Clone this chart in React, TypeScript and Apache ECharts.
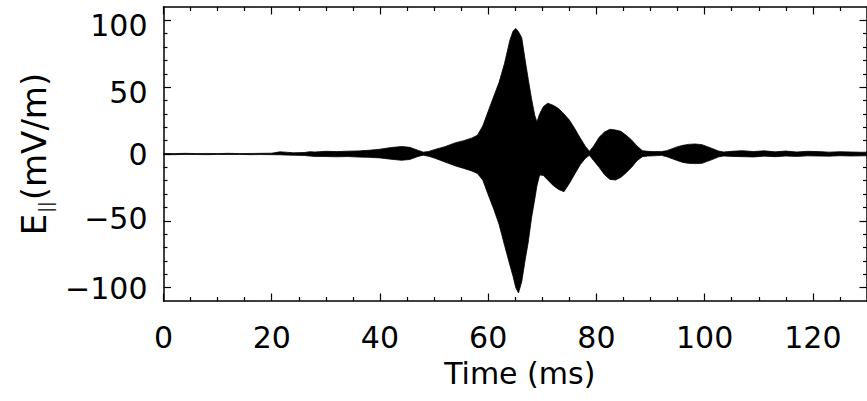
import React, { useEffect, useRef } from 'react';
import * as echarts from 'echarts';

// ---- data (envelope of the dense wave packet) ----
const timeMs = [
  0, 2, 4, 6, 8, 10, 12, 14, 16, 18, 20, 21.5, 22.5, 24, 26, 27, 28, 30, 32, 34,
  36, 38, 40, 42, 44, 45.5, 47, 48, 49, 50, 52, 54, 55.5, 57, 58, 59, 60, 61, 62, 63,
  64, 64.6, 65.1, 65.6, 66.2, 66.8, 67.4, 68, 68.6, 69, 69.5, 70.2, 71, 72, 73, 74, 75, 76, 77, 78,
  78.7, 79.5, 80.5, 81.5, 82.5, 83.5, 84.5, 85.5, 86.5, 87.5, 88.5, 89.5, 90.5, 92, 93, 94, 95, 96, 97, 98.2,
  99.5, 100.5, 101.5, 102.5, 103.5, 105, 107, 109, 111, 113, 115, 117, 119, 121, 123, 125, 127, 129, 130,
];
const upperEnv = [
  0.4, 0.3, 0.5, 0.3, 0.4, 0.3, 0.5, 0.3, 0.4, 0.5, 0.6, 1.6, 1.4, 0.9, 1.1, 1.7, 1.5, 2.0, 1.8, 2.1,
  2.3, 2.8, 3.6, 4.8, 5.6, 5.0, 2.8, 1.4, 1.9, 3.2, 5.5, 8.5, 10.0, 12.0, 14.0, 21.0, 32.0, 42.8, 53.5, 67.5,
  85.0, 92.0, 94.0, 91.5, 87.0, 71.0, 56.0, 41.5, 29.0, 24.0, 30.0, 35.5, 38.0, 36.5, 34.0, 30.0, 25.4, 19.0, 12.0, 5.5,
  2.0, 6.0, 12.5, 16.5, 18.5, 18.0, 17.0, 14.0, 10.5, 6.0, 2.5, 2.0, 1.8, 1.8, 2.5, 4.0, 5.5, 6.5, 7.2, 7.5,
  7.0, 5.5, 4.0, 2.3, 1.5, 2.0, 2.5, 1.8, 2.4, 1.6, 2.2, 1.5, 2.0, 1.8, 1.4, 1.7, 1.5, 1.3, 1.4,
];
const lowerEnv = [
  -0.4, -0.5, -0.3, -0.4, -0.5, -0.3, -0.4, -0.3, -0.5, -0.4, -0.5, -0.6, -0.8, -0.9, -1.1, -1.5, -1.8, -1.9, -2.1, -1.9,
  -2.3, -2.5, -2.9, -3.9, -4.7, -4.1, -1.9, -0.9, -1.7, -2.9, -6.0, -9.0, -10.8, -12.8, -14.5, -19.5, -30.5, -41.0, -52.5, -68.0,
  -83.0, -91.7, -100.0, -104.0, -95.5, -80.0, -66.0, -48.0, -34.0, -24.0, -15.7, -16.0, -19.5, -23.5, -26.5, -28.2, -22.0, -15.0, -8.0, -3.0,
  -1.0, -5.0, -10.0, -15.5, -19.0, -19.5, -17.5, -14.0, -10.0, -5.0, -2.0, -1.5, -1.4, -1.0, -2.0, -3.5, -5.0, -6.3, -7.0, -7.2,
  -7.0, -5.5, -4.0, -2.2, -1.5, -1.8, -2.0, -2.2, -1.6, -2.0, -1.5, -1.8, -1.4, -1.5, -1.6, -1.3, -1.5, -1.4, -1.3,
];

const xMajorTicks = [0, 20, 40, 60, 80, 100, 120];
const xMinorTicks = [5, 10, 15, 25, 30, 35, 45, 50, 55, 65, 70, 75, 85, 90, 95, 105, 110, 115, 125];
const yMajorTicks = [-100, -50, 0, 50, 100];
const yMinorTicks = [-90, -80, -70, -60, -40, -30, -20, -10, 10, 20, 30, 40, 60, 70, 80, 90];
const xTitle = 'Time (ms)';
const yTitle = '{m|E}{s|||}{m|(mV/m)}';

const FONT = 'DejaVu Sans';
const BLACK = '#000';

export default function App() {
  const ref = useRef<HTMLDivElement>(null);

  useEffect(() => {
    if (!ref.current) return;
    const chart = echarts.init(ref.current, undefined, { renderer: 'svg' });

    const frameLine = { show: true, onZero: false, lineStyle: { color: BLACK, width: 1.5 } };
    const majorTick = (vals: number[]) => ({
      show: true, inside: true, length: 7.5, customValues: vals,
      lineStyle: { color: BLACK, width: 1.2 },
    });
    const minorTick = (vals: number[]) => ({
      show: true, inside: true, length: 4, customValues: vals,
      lineStyle: { color: BLACK, width: 1.2 },
    });
    const fmt = (v: number) => (v < 0 ? '\u2212' + Math.abs(v) : String(v));
    const labelStyle = { fontSize: 30, fontFamily: FONT, color: BLACK };
    const yLabelRich = {
      p100: { ...labelStyle, padding: [11, 0, 0, 0] },
      p50: { ...labelStyle, padding: [11, 0, 0, 0] },
      p0: { ...labelStyle },
      n50: { ...labelStyle, padding: [0, 0, 4, 0] },
      n100: { ...labelStyle, padding: [2, 0, 0, 0] },
    };
    const yFmt = (v: number) => {
      const key = v < 0 ? 'n' + Math.abs(v) : 'p' + v;
      return '{' + key + '|' + fmt(v) + '}';
    };

    const xBase = { type: 'value' as const, min: 0, max: 130, splitLine: { show: false } };
    const yBase = { type: 'value' as const, min: -110, max: 110, splitLine: { show: false } };

    const lineSeries = (vals: number[]) => ({
      type: 'line',
      xAxisIndex: 0,
      yAxisIndex: 0,
      data: timeMs.map((t, i) => [t, vals[i]]),
      symbol: 'none',
      showSymbol: false,
      lineStyle: { color: BLACK, width: 0.8 },
      areaStyle: { color: BLACK, opacity: 1 },
      silent: true,
    });

    chart.setOption({
      animation: false,
      backgroundColor: '#fff',
      grid: [
        { left: 163.5, top: 7, width: 710.5, height: 294, show: false },
        { left: 163.5, top: 7, width: 710.5, height: 294, show: false },
      ],
      xAxis: [
        {
          ...xBase, gridIndex: 0, position: 'bottom',
          axisLine: frameLine, axisTick: majorTick(xMajorTicks),
          axisLabel: { ...labelStyle, customValues: xMajorTicks, margin: 21, formatter: fmt },
          name: xTitle, nameLocation: 'middle', nameGap: 57,
          nameTextStyle: { fontSize: 30, fontFamily: FONT, color: BLACK, padding: [0, 0, 0, 9] },
        },
        {
          ...xBase, gridIndex: 0, position: 'top',
          axisLine: frameLine, axisTick: majorTick(xMajorTicks), axisLabel: { show: false },
        },
        {
          ...xBase, gridIndex: 1, position: 'bottom',
          axisLine: { show: false, onZero: false }, axisTick: minorTick(xMinorTicks), axisLabel: { show: false },
        },
        {
          ...xBase, gridIndex: 1, position: 'top',
          axisLine: { show: false, onZero: false }, axisTick: minorTick(xMinorTicks), axisLabel: { show: false },
        },
      ],
      yAxis: [
        {
          ...yBase, gridIndex: 0, position: 'left',
          axisLine: frameLine, axisTick: majorTick(yMajorTicks),
          axisLabel: { ...labelStyle, customValues: yMajorTicks, margin: 16, formatter: yFmt, rich: yLabelRich },
          name: yTitle, nameLocation: 'middle', nameGap: 111,
          nameTextStyle: {
            color: BLACK,
            rich: {
              m: { fontSize: 34, fontFamily: FONT, color: BLACK, lineHeight: 34, verticalAlign: 'top' },
              s: { fontSize: 17, fontFamily: FONT, color: BLACK, lineHeight: 17, verticalAlign: 'top', padding: [20, 1, 0, 1] },
            },
          },
        },
        {
          ...yBase, gridIndex: 0, position: 'right',
          axisLine: frameLine, axisTick: majorTick(yMajorTicks), axisLabel: { show: false },
        },
        {
          ...yBase, gridIndex: 1, position: 'left',
          axisLine: { show: false, onZero: false }, axisTick: minorTick(yMinorTicks), axisLabel: { show: false },
        },
        {
          ...yBase, gridIndex: 1, position: 'right',
          axisLine: { show: false, onZero: false }, axisTick: minorTick(yMinorTicks), axisLabel: { show: false },
        },
      ],
      series: [lineSeries(upperEnv), lineSeries(lowerEnv)],
    });

    return () => chart.dispose();
  }, []);

  return (
    <div
      ref={ref}
      style={{ position: 'fixed', left: 0, top: 0, width: 867, height: 401, background: '#fff' }}
    />
  );
}
